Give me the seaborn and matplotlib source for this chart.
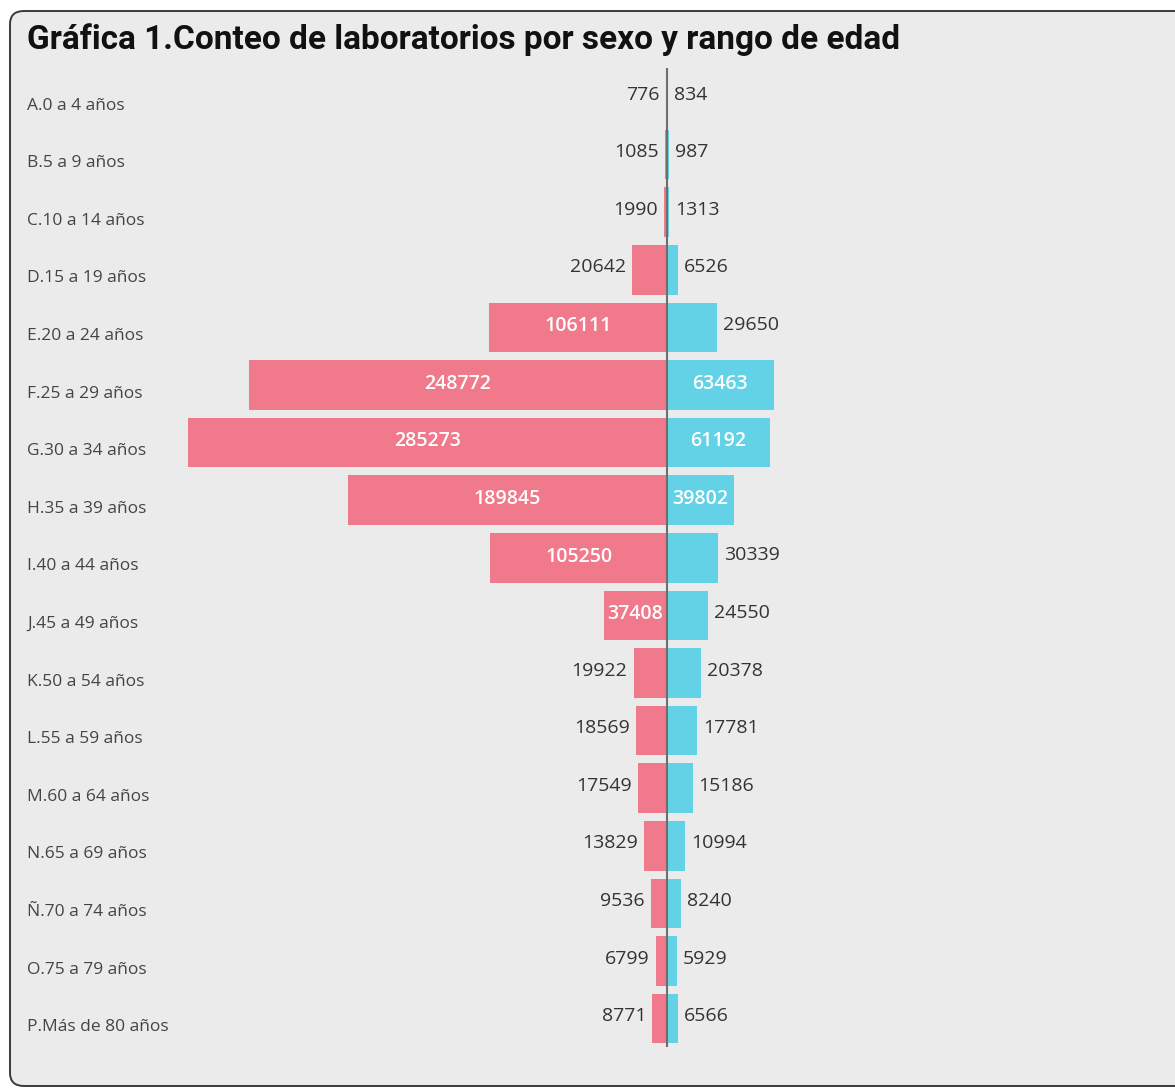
import matplotlib
matplotlib.use("Agg")
import matplotlib.pyplot as plt
from matplotlib.patches import FancyBboxPatch
from matplotlib.transforms import blended_transform_factory
import pandas as pd
import seaborn as sns

# Age ranges and lab counts per sex
grupos = ["A.0 a 4 años", "B.5 a 9 años", "C.10 a 14 años", "D.15 a 19 años",
          "E.20 a 24 años", "F.25 a 29 años", "G.30 a 34 años", "H.35 a 39 años",
          "I.40 a 44 años", "J.45 a 49 años", "K.50 a 54 años", "L.55 a 59 años",
          "M.60 a 64 años", "N.65 a 69 años", "Ñ.70 a 74 años", "O.75 a 79 años",
          "P.Más de 80 años"]
mujeres = [776, 1085, 1990, 20642, 106111, 248772, 285273, 189845, 105250,
           37408, 19922, 18569, 17549, 13829, 9536, 6799, 8771]
hombres = [834, 987, 1313, 6526, 29650, 63463, 61192, 39802, 30339,
           24550, 20378, 17781, 15186, 10994, 8240, 5929, 6566]

titulo = "Gráfica 1.Conteo de laboratorios por sexo y rango de edad"

col_mujer = "#F0798C"
col_hombre = "#64D2E6"
fondo = "#EBEBEB"

df = pd.DataFrame({
    "grupo": grupos * 2,
    "sexo": ["Mujer"] * len(grupos) + ["Hombre"] * len(grupos),
    "conteo": [-v for v in mujeres] + hombres,
})

sns.set_theme(style="white")
plt.rcParams["font.family"] = ["Open Sans", "DejaVu Sans"]

W, H = 1175, 1088
fig = plt.figure(figsize=(W / 100, H / 100), dpi=100)
fig.patch.set_facecolor("white")

# rounded card behind the chart
card = FancyBboxPatch((10 / W, 2 / H), 1.2, 1075 / H,
                      boxstyle="round,pad=0,rounding_size=0.012",
                      transform=fig.transFigure, facecolor=fondo,
                      edgecolor="#3a3a3a", linewidth=1.4, zorder=-5)
fig.patches.append(card)

fig.text(27 / W, 1 - 40 / H, titulo, fontsize=24, fontweight="bold",
         family=["Roboto", "DejaVu Sans"], color="#111111", va="center", ha="left")

row_px = 57.6
top_px = 97 - row_px / 2
bot_px = top_px + row_px * len(grupos)
ax = fig.add_axes([167 / W, 1 - bot_px / H, 1000 / W, (bot_px - top_px) / H])
ax.set_zorder(3)
ax.patch.set_visible(False)

sns.barplot(data=df, y="grupo", x="conteo", hue="sexo", order=grupos,
            hue_order=["Mujer", "Hombre"], palette=[col_mujer, col_hombre],
            dodge=False, width=0.86, legend=False, ax=ax, orient="h",
            edgecolor="none", saturation=1)

px_per_unit = 0.00168
lim = 500 / px_per_unit
ax.set_xlim(-lim, lim)
ax.set_ylim(len(grupos) - 0.5, -0.5)
ax.axvline(0, color="#6e6e6e", linewidth=1.5, zorder=5)
for s in ax.spines.values():
    s.set_visible(False)
ax.set_xticks([])
ax.set_yticks([])
ax.set_xlabel("")
ax.set_ylabel("")

# category labels at the left edge of the card
tr = blended_transform_factory(fig.transFigure, ax.transData)
for i, g in enumerate(grupos):
    ax.text(27 / W, i + 0.15, g, transform=tr, ha="left", va="center",
            fontsize=12.5, color="#444444")

# value labels: inside (white) when they fit, otherwise outside the bar end
for i in range(len(grupos)):
    for v, side in ((mujeres[i], -1), (hombres[i], 1)):
        if v * px_per_unit > 62:
            ax.text(side * v / 2, i - 0.02, f"{v}", ha="center", va="center",
                    fontsize=14, color="white", fontweight="semibold", zorder=6)
        else:
            off = 6 / px_per_unit
            ax.text(side * (v + off), i - 0.04, f"{v}",
                    ha="right" if side < 0 else "left", va="center",
                    fontsize=14, color="#333333", zorder=6)

fig.savefig("out.png", dpi=100, facecolor="white")
